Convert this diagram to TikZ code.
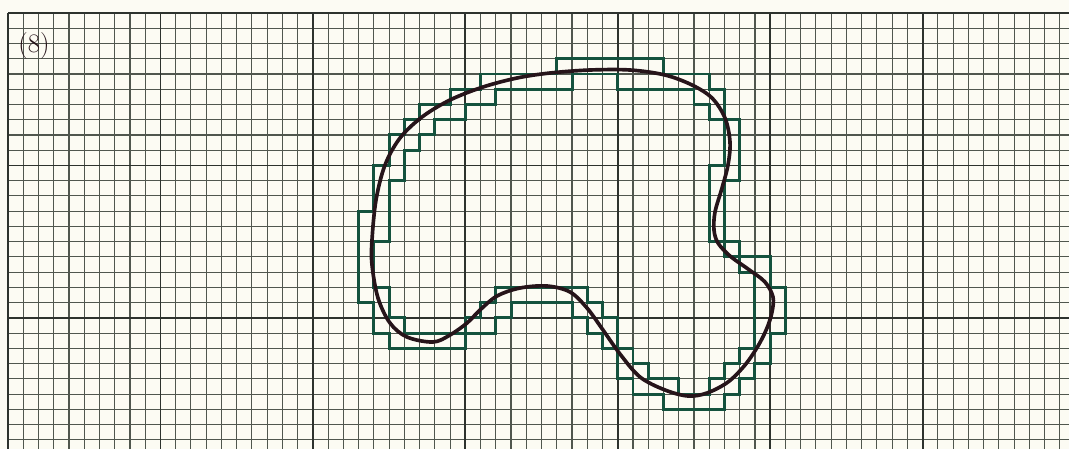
\documentclass[tikz,border=0pt]{standalone}
\definecolor{paper}{RGB}{252,251,243}
\definecolor{gridc}{RGB}{80,86,78}
\definecolor{gridm}{RGB}{45,50,45}
\definecolor{ink}{RGB}{20,82,62}
\definecolor{pen}{RGB}{38,20,26}
\begin{document}
\begin{tikzpicture}[x=0.025cm,y=-0.025cm,
  minorline/.style={gridc,line width=0.8pt},
  majorline/.style={gridm,line width=1.3pt},
  staircase/.style={ink,line width=2.1pt,line join=miter},
  outline/.style={pen,line width=2.6pt,line join=round}]
\useasboundingbox (0,0) rectangle (1069,449);
\fill[paper] (0,0) rectangle (1069,449);
\begin{scope}[shift={(8,13)},x=0.381cm,y=-0.381cm]
% grid
\foreach \j in {0,...,28} \draw[minorline] (0,\j) -- (69.6,\j);
\foreach \i in {0,...,69} \draw[minorline] (\i,0) -- (\i,28.6);
\foreach \j in {0,10,20} \draw[majorline] (0,\j) -- (69.6,\j);
\foreach \i in {0,10,...,60} \draw[majorline] (\i,0) -- (\i,28.6);
% staircases
\draw[staircase] (36,3) -- (43,3) -- (43,4) -- (46,4) -- (46,5) -- (47,5) -- (47,7) -- (48,7) -- (48,11) -- (47,11) -- (47,15) -- (48,15) -- (48,16) -- (50,16) -- (50,18) -- (51,18) -- (51,21) -- (50,21) -- (50,23) -- (49,23) -- (49,24) -- (48,24) -- (48,25) -- (47,25) -- (47,26) -- (43,26) -- (43,25) -- (41,25) -- (41,24) -- (40,24) -- (40,22) -- (39,22) -- (39,21) -- (38,21) -- (38,20) -- (37,20) -- (37,19) -- (33,19) -- (33,20) -- (32,20) -- (32,21) -- (30,21) -- (30,22) -- (25,22) -- (25,21) -- (24,21) -- (24,19) -- (23,19) -- (23,13) -- (24,13) -- (24,10) -- (25,10) -- (25,8) -- (26,8) -- (26,7) -- (27,7) -- (27,6) -- (29,6) -- (29,5) -- (31,5) -- (31,4) -- (36,4) -- cycle;
\draw[staircase] (37,4) -- (40,4) -- (40,5) -- (45,5) -- (45,6) -- (46,6) -- (46,7) -- (47,7) -- (47,10) -- (46,10) -- (46,15) -- (47,15) -- (47,16) -- (48,16) -- (48,17) -- (49,17) -- (49,22) -- (48,22) -- (48,23) -- (47,23) -- (47,24) -- (46,24) -- (46,25) -- (44,25) -- (44,24) -- (42,24) -- (42,23) -- (41,23) -- (41,22) -- (40,22) -- (40,20) -- (39,20) -- (39,19) -- (38,19) -- (38,18) -- (32,18) -- (32,19) -- (31,19) -- (31,20) -- (30,20) -- (30,21) -- (26,21) -- (26,20) -- (25,20) -- (25,18) -- (24,18) -- (24,15) -- (25,15) -- (25,11) -- (26,11) -- (26,9) -- (27,9) -- (27,8) -- (28,8) -- (28,7) -- (30,7) -- (30,6) -- (32,6) -- (32,5) -- (37,5) -- cycle;
\end{scope}
% smooth outline
\draw[outline] plot[smooth cycle, tension=0.55] coordinates {
(372,240) (376,200) (385,165) (400,138) (422,117) (450,100) (483,87) (517,78)
(550,73) (590,70) (630,70) (665,75) (692,85) (712,98) (725,118) (730,142)
(728,165) (722,188) (715,212) (714,230) (718,243) (730,256) (748,269) (765,282)
(773,297) (772,312) (767,328) (758,346) (745,365) (728,382) (707,393) (688,396)
(665,390) (640,377) (620,354) (603,330) (587,308) (570,292) (547,286) (520,288)
(497,296) (480,310) (467,323) (450,335) (433,342) (407,337) (390,323) (378,298)
(372,265)};
\node[font=\fontsize{19}{19}\selectfont,text=pen] (label) at (34,46) {(8)};
\end{tikzpicture}
\end{document}
